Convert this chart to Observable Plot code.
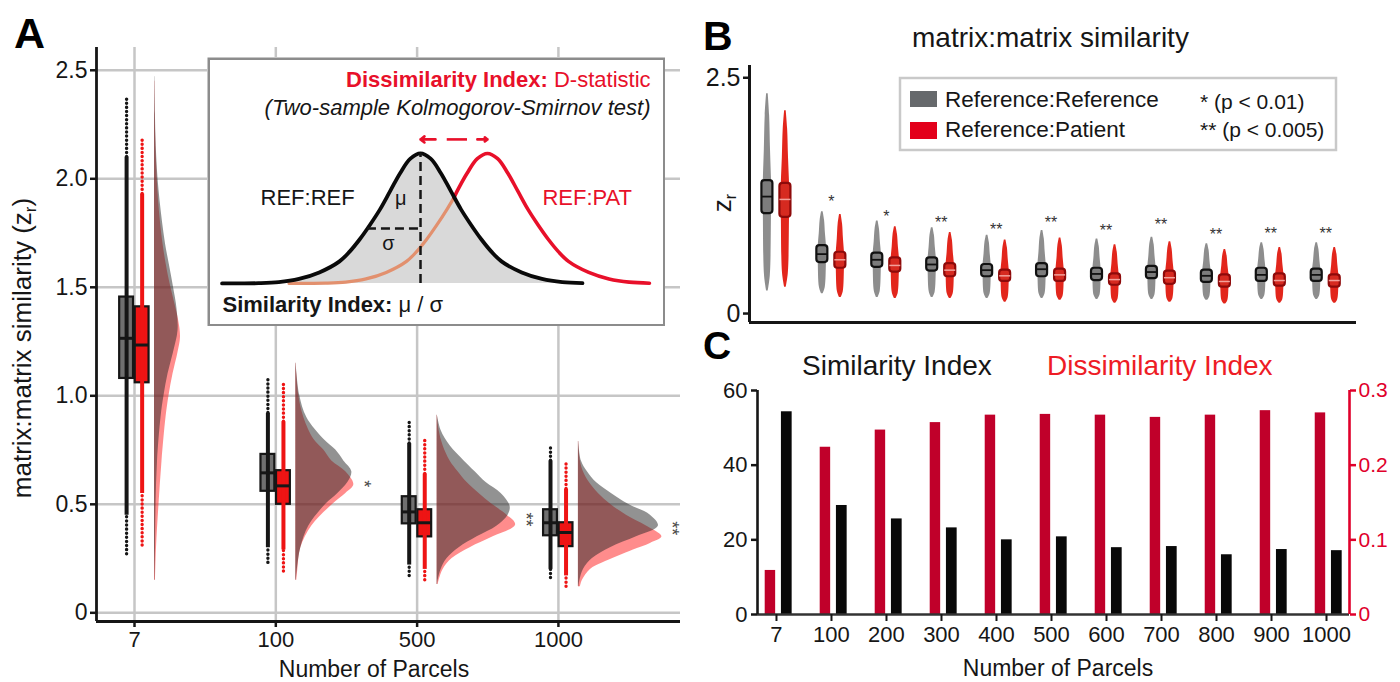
<!DOCTYPE html>
<html><head><meta charset="utf-8">
<script src="https://cdn.jsdelivr.net/npm/d3@7"></script>
<script src="https://cdn.jsdelivr.net/npm/@observablehq/plot@0.6"></script>
<style>
body{margin:0;background:#fff;}
#root{position:relative;width:1400px;height:682px;overflow:hidden;background:#fff;}
</style></head><body><div id="root"></div>
<script>
// ---------------- DATA ----------------
// Panel A
const catsA = ["7", "100", "500", "1000"];
// box stats [q1, median, q3]
const refBoxA = [[1.08, 1.265, 1.455], [0.56, 0.645, 0.73], [0.41, 0.465, 0.535], [0.355, 0.415, 0.475]];
const patBoxA = [[1.06, 1.234, 1.41], [0.50, 0.585, 0.655], [0.35, 0.415, 0.475], [0.305, 0.37, 0.415]];
// raw points extent [min, dense low, dense high, max]
const refPtsA = [[0.27, 0.45, 2.10, 2.38], [0.23, 0.30, 0.92, 1.09], [0.17, 0.22, 0.78, 0.88], [0.16, 0.20, 0.70, 0.76]];
const patPtsA = [[0.31, 0.55, 1.93, 2.19], [0.19, 0.29, 0.88, 1.06], [0.15, 0.20, 0.64, 0.80], [0.12, 0.17, 0.57, 0.70]];
// half-violin density profiles [value, density]
const violinRefA = [
  [[0.15,0.5],[0.3,1],[0.5,1.5],[0.7,3],[0.9,6.5],[1.0,9.5],[1.1,13.5],[1.2,19],[1.3,23.5],[1.4,22.5],[1.5,19],[1.6,15],[1.7,11],[1.8,8],[1.9,5.5],[2.0,3.5],[2.1,2.2],[2.2,1.4],[2.3,0.9],[2.47,0.3]],
  [[0.15,0.5],[0.2,1.5],[0.3,5],[0.4,13],[0.5,30],[0.55,42],[0.6,52],[0.65,56],[0.7,48],[0.75,40],[0.8,28],[0.9,11],[1.0,4],[1.15,0.3]],
  [[0.13,0.5],[0.15,1],[0.2,4],[0.25,10],[0.3,22],[0.35,40],[0.4,60],[0.45,71],[0.49,73],[0.55,64],[0.6,49],[0.65,38],[0.7,27],[0.77,13],[0.84,4],[0.91,0.3]],
  [[0.12,0.5],[0.15,1.5],[0.2,5],[0.25,14],[0.3,32],[0.35,58],[0.4,80],[0.45,72],[0.5,50],[0.55,33],[0.6,18],[0.65,9],[0.7,3],[0.79,0.3]]
];
const violinPatA = [
  [[0.15,1],[0.3,2],[0.5,4.5],[0.7,7.5],[0.9,11.5],[1.0,14.5],[1.1,18.5],[1.2,23.5],[1.27,26],[1.35,24],[1.45,19],[1.55,14],[1.7,8.5],[1.9,4],[2.1,1.8],[2.3,0.7],[2.45,0.3]],
  [[0.15,1],[0.2,2],[0.3,5],[0.4,16],[0.5,37],[0.55,50],[0.59,58],[0.65,50],[0.7,36],[0.75,28],[0.8,18],[0.9,8],[1.0,3],[1.1,1],[1.15,0.3]],
  [[0.13,1],[0.15,2],[0.2,6],[0.25,15],[0.3,33],[0.35,56],[0.405,78.5],[0.45,70],[0.5,55],[0.55,42],[0.6,30],[0.65,21],[0.7,13],[0.77,6],[0.84,2],[0.91,0.3]],
  [[0.12,2],[0.15,4],[0.2,12],[0.23,24],[0.29,55],[0.32,72],[0.35,83.5],[0.4,68],[0.45,48],[0.5,32],[0.55,20],[0.6,11],[0.65,5],[0.7,2],[0.79,0.3]]
];
const sigA = ["", "*", "**", "**"];
const sigAy = [null, 0.595, 0.43, 0.39];

// Inset schematic (x in sigma units, h relative height)
const bellX = [-4.9,-4,-3.5,-3,-2.5,-2,-1.75,-1.5,-1.25,-1,-0.75,-0.5,-0.25,0,0.25,0.5,0.75,1,1.25,1.5,1.75,2,2.5,3,3.5,4];
const bellH = [0,0.002,0.01,0.035,0.085,0.17,0.245,0.34,0.45,0.57,0.71,0.85,0.96,1,0.96,0.85,0.71,0.57,0.45,0.34,0.245,0.17,0.085,0.035,0.01,0.002];
const patShift = 1.654;          // REF:PAT mean offset
const cross = [0.827, 0.66];     // where the two curves cross
const sigmaMark = [-1.31, 0.423];// sigma guide: x start, height
const arrowY = 1.108;

// Panel B
const catsB = ["7","100","200","300","400","500","600","700","800","900","1000"];
// [min, q1, median, q3, max]
const refB = [[0.24,1.06,1.24,1.41,2.33],[0.21,0.54,0.63,0.72,1.08],[0.17,0.49,0.57,0.64,0.98],[0.17,0.45,0.52,0.59,0.91],[0.16,0.39,0.46,0.52,0.83],[0.16,0.39,0.47,0.53,0.88],[0.15,0.35,0.42,0.48,0.79],[0.15,0.37,0.44,0.50,0.81],[0.14,0.33,0.40,0.46,0.74],[0.15,0.34,0.41,0.48,0.75],[0.15,0.34,0.41,0.47,0.75]];
const patB = [[0.28,1.02,1.21,1.38,2.15],[0.17,0.48,0.57,0.65,1.05],[0.16,0.44,0.51,0.59,0.92],[0.16,0.39,0.46,0.53,0.86],[0.12,0.34,0.40,0.46,0.78],[0.14,0.34,0.41,0.47,0.80],[0.11,0.30,0.36,0.42,0.73],[0.12,0.31,0.38,0.45,0.76],[0.10,0.28,0.34,0.41,0.68],[0.11,0.29,0.35,0.42,0.70],[0.11,0.28,0.35,0.41,0.70]];
const sigB = ["", "*", "*", "**", "**", "**", "**", "**", "**", "**", "**"];
const sigBy = [null, 1.23, 1.07, 1.0, 0.93, 1.0, 0.92, 0.98, 0.88, 0.89, 0.89];

// Panel C
const simIndex = [54.3, 29.2, 25.6, 23.2, 20.0, 20.8, 17.9, 18.2, 16.0, 17.4, 17.1];
const dissimIndex = [0.059, 0.224, 0.247, 0.257, 0.267, 0.268, 0.267, 0.264, 0.267, 0.273, 0.270];

// ---------------- DRAW ----------------
const fontFamily = "'Liberation Sans', Arial, Helvetica, sans-serif";
const root = document.getElementById("root");
function place(el, left, top) {
  el.style.position = "absolute"; el.style.left = left + "px"; el.style.top = top + "px";
  root.appendChild(el); return el;
}
const INK = "#161616";

// ---- Panel A ----
const PA = 141.3, baseA = 20 / PA;
const violinRows = (profiles, key) => profiles.flatMap((prof, i) =>
  prof.map(([y, d]) => ({ key: key + i, y, x1: i + baseA, x2: i + baseA + d / PA })));
const refViolA = violinRows(violinRefA, "r"), patViolA = violinRows(violinPatA, "p");
const boxRows = (stats, a, b) => stats.map(([q1, m, q3], i) => ({ q1, m, q3, x1: i + a, x2: i + b }));
const refBoxRows = boxRows(refBoxA, -0.105, -0.007);
const patBoxRows = boxRows(patBoxA, 0.005, 0.103);
const ptRows = (pts, off) => pts.map(([mn, lo, hi, mx], i) => ({ x: i + off, mn, lo, hi, mx }));
const refPtRows = ptRows(refPtsA, -0.056), patPtRows = ptRows(patPtsA, 0.054);
const starRowsA = sigA.map((s, i) => ({
  s, y: sigAy[i],
  x: i + baseA + (Math.max(...violinPatA[i].map(d => d[1]), ...violinRefA[i].map(d => d[1])) + 10) / PA
})).filter(d => d.s);
const xA = [-0.269, 3.864], yA = [-0.04, 2.605];
const dotted = { strokeWidth: 3.4, strokeDasharray: "0.1 4", strokeLinecap: "round" };

const plotA = Plot.plot({
  width: 690, height: 682, marginLeft: 96, marginRight: 10, marginTop: 47, marginBottom: 61,
  x: { domain: xA }, y: { domain: yA },
  style: { fontFamily, fontSize: "22px", color: INK, background: "#fff" },
  marks: [
    Plot.gridY([0, 0.5, 1, 1.5, 2, 2.5], { stroke: "#c6c6c6", strokeOpacity: 1, strokeWidth: 2.5 }),
    Plot.gridX([0, 1, 2, 3], { stroke: "#c6c6c6", strokeOpacity: 1, strokeWidth: 2.5 }),
    Plot.areaX(patViolA, { y: "y", x1: "x1", x2: "x2", z: "key", fill: "#ff2222", fillOpacity: 0.52, curve: "catmull-rom" }),
    Plot.areaX(refViolA, { y: "y", x1: "x1", x2: "x2", z: "key", fill: "#262626", fillOpacity: 0.5, curve: "catmull-rom" }),
    Plot.rect(refBoxRows, { x1: "x1", x2: "x2", y1: "q1", y2: "q3", fill: "#707070", stroke: INK, strokeWidth: 2.2 }),
    Plot.rect(patBoxRows, { x1: "x1", x2: "x2", y1: "q1", y2: "q3", fill: "#ee1414", stroke: INK, strokeWidth: 2.2 }),
    Plot.ruleX(refPtRows, { x: "x", y1: "mn", y2: "lo", stroke: INK, ...dotted }),
    Plot.ruleX(refPtRows, { x: "x", y1: "hi", y2: "mx", stroke: INK, ...dotted }),
    Plot.ruleX(refPtRows, { x: "x", y1: "lo", y2: "hi", stroke: INK, strokeWidth: 4 }),
    Plot.ruleX(patPtRows, { x: "x", y1: "mn", y2: "lo", stroke: "#ee1414", ...dotted }),
    Plot.ruleX(patPtRows, { x: "x", y1: "hi", y2: "mx", stroke: "#ee1414", ...dotted }),
    Plot.ruleX(patPtRows, { x: "x", y1: "lo", y2: "hi", stroke: "#ee1414", strokeWidth: 4 }),
    Plot.ruleY(refBoxRows, { x1: "x1", x2: "x2", y: "m", stroke: INK, strokeWidth: 3 }),
    Plot.ruleY(patBoxRows, { x1: "x1", x2: "x2", y: "m", stroke: INK, strokeWidth: 3 }),
    Plot.text(starRowsA, { x: "x", y: "y", text: "s", rotate: 90, fontSize: 18, fill: "#4a4a4a" }),
    Plot.ruleX([xA[0]], { y1: yA[0], y2: yA[1], stroke: INK, strokeWidth: 2.8 }),
    Plot.ruleY([yA[0]], { x1: xA[0], x2: xA[1], stroke: INK, strokeWidth: 2.8 }),
    Plot.axisY({ ticks: [0, 0.5, 1, 1.5, 2, 2.5], tickFormat: d => d === 0 ? "0" : d.toFixed(1), tickSize: 6, tickPadding: 3, fontSize: 23, strokeWidth: 2.5, label: null }),
    Plot.axisX({ ticks: [0, 1, 2, 3], tickFormat: i => catsA[i], tickSize: 6, tickPadding: 4, fontSize: 22, strokeWidth: 2.5, label: null })
  ]
});
place(plotA, 0, 0);

// ---- Inset ----
const bellRows = bellX.map((x, i) => ({ x, h: bellH[i] }));
const redAll = bellX.map((x, i) => ({ x: x + patShift, h: bellH[i] }));
const salmonRows = redAll.filter(d => d.x < cross[0]).concat([{ x: cross[0], h: cross[1] }]);
const redRows = [{ x: cross[0], h: cross[1] }].concat(redAll.filter(d => d.x > cross[0]));
const RED = "#e8102a";
const inset = Plot.plot({
  width: 458, height: 269, margin: 0,
  x: { domain: [-5.26, 6.05], axis: null }, y: { domain: [-0.331, 1.738], axis: null },
  style: { fontFamily, background: "#fff", color: INK },
  marks: [
    Plot.areaY(bellRows, { x: "x", y: "h", fill: "#d9d9d9", curve: "catmull-rom" }),
    Plot.line(salmonRows, { x: "x", y: "h", stroke: "#e2906e", strokeWidth: 3.2, curve: "catmull-rom" }),
    Plot.line(redRows, { x: "x", y: "h", stroke: RED, strokeWidth: 3.6, curve: "catmull-rom" }),
    Plot.line(bellRows, { x: "x", y: "h", stroke: "#0a0a0a", strokeWidth: 3.8, curve: "catmull-rom" }),
    Plot.ruleX([0], { y1: 0, y2: 1, stroke: INK, strokeWidth: 2.5, strokeDasharray: "9,5" }),
    Plot.ruleY([sigmaMark[1]], { x1: sigmaMark[0], x2: 0, stroke: INK, strokeWidth: 2.5, strokeDasharray: "9,5" }),
    Plot.arrow([{ a: 0.37, b: 0 }, { a: patShift - 0.25, b: patShift }], { x1: "a", x2: "b", y1: arrowY, y2: arrowY, stroke: RED, strokeWidth: 2.6, headLength: 12, headAngle: 75 }),
    Plot.ruleY([arrowY], { x1: 0.66, x2: 1.16, stroke: RED, strokeWidth: 2.6 }),
    Plot.text(["Dissimilarity Index: D-statistic"], { x: 5.68, y: 1.508, text: d => d, textAnchor: "end", lineAnchor: "bottom", fontSize: 22, fill: RED }),
    Plot.text(["(Two-sample Kolmogorov-Smirnov test)"], { x: 5.68, y: 1.292, text: d => d, textAnchor: "end", lineAnchor: "bottom", fontSize: 22, fontStyle: "italic", fill: INK }),
    Plot.text(["REF:REF"], { x: -3.95, y: 0.6, text: d => d, textAnchor: "start", lineAnchor: "bottom", fontSize: 22, fill: INK }),
    Plot.text(["REF:PAT"], { x: 3.01, y: 0.6, text: d => d, textAnchor: "start", lineAnchor: "bottom", fontSize: 22, fill: RED }),
    Plot.text(["μ"], { x: -0.49, y: 0.654, text: d => d, fontSize: 20, fill: INK }),
    Plot.text(["σ"], { x: -0.79, y: 0.308, text: d => d, fontSize: 20, fill: INK }),
    Plot.text(["Similarity Index: μ / σ"], { x: -4.89, y: -0.223, text: d => d, textAnchor: "start", lineAnchor: "bottom", fontSize: 22, fill: INK }),
    Plot.frame({ stroke: "#8c8c8c", strokeWidth: 2.5, inset: 1.25 })
  ]
});
function enrich(svg, whole, parts) {
  svg.querySelectorAll("text").forEach(t => {
    if (t.textContent === whole) {
      t.textContent = "";
      parts.forEach(([s, w]) => {
        const ts = document.createElementNS("http://www.w3.org/2000/svg", "tspan");
        ts.setAttribute("font-weight", w); ts.textContent = s; t.appendChild(ts);
      });
    }
  });
}
enrich(inset, "Dissimilarity Index: D-statistic", [["Dissimilarity Index: ", "bold"], ["D-statistic", "normal"]]);
enrich(inset, "Similarity Index: μ / σ", [["Similarity Index: ", "bold"], ["μ / σ", "normal"]]);
place(inset, 207, 57);

// ---- Panel B ----
const PB = 54.9, offB = 9 / PB, boxHalf = 5.5 / PB;
function violinB(stats, off, key) {
  return stats.flatMap(([mn, q1, md, q3, mx], i) => {
    const c = i + off;
    const prof = [[mn, 0.8], [mn + 0.2 * (q1 - mn), 2.9], [q1, 4.1], [md, 4.5], [q3, 4.1],
                  [q3 + 0.35 * (mx - q3), 3.1], [q3 + 0.75 * (mx - q3), 2.2], [mx, 0.8]];
    return prof.map(([y, w]) => ({ k: key + i, y, x1: c - w / PB, x2: c + w / PB }));
  });
}
const boxB = (stats, off) => stats.map(([mn, q1, md, q3, mx], i) => ({ q1, md, q3, x1: i + off - boxHalf, x2: i + off + boxHalf }));
const xB = [-0.49, 10.56], yB = [-0.095, 2.63];
const plotB = Plot.plot({
  width: 710, height: 330, marginLeft: 59, marginRight: 44, marginTop: 65, marginBottom: 8,
  x: { domain: xB, axis: null }, y: { domain: yB },
  style: { fontFamily, fontSize: "24px", color: INK, background: "#fff" },
  marks: [
    Plot.areaX(violinB(refB, -offB, "r"), { y: "y", x1: "x1", x2: "x2", z: "k", fill: "#8d8d8d", curve: "catmull-rom" }),
    Plot.areaX(violinB(patB, offB, "p"), { y: "y", x1: "x1", x2: "x2", z: "k", fill: "#e2261c", curve: "catmull-rom" }),
    Plot.rect(boxB(refB, -offB), { x1: "x1", x2: "x2", y1: "q1", y2: "q3", fill: "#7c7c7c", stroke: "#111", strokeWidth: 2.2, rx: 3 }),
    Plot.ruleY(boxB(refB, -offB), { x1: "x1", x2: "x2", y: "md", stroke: "#111", strokeWidth: 1.8 }),
    Plot.rect(boxB(patB, offB), { x1: "x1", x2: "x2", y1: "q1", y2: "q3", fill: "#d62a20", stroke: "#8e0a0a", strokeWidth: 2.2, rx: 3 }),
    Plot.ruleY(boxB(patB, offB), { x1: "x1", x2: "x2", y: "md", stroke: "#f2a09a", strokeWidth: 1.5 }),
    Plot.text(sigB.map((s, i) => ({ s, i, y: sigBy[i] })).filter(d => d.s), { x: "i", y: "y", text: "s", fontSize: 16, dy: 4, fill: "#333" }),
    Plot.ruleX([xB[0]], { y1: yB[0], y2: yB[1], stroke: INK, strokeWidth: 3 }),
    Plot.ruleY([yB[0]], { x1: xB[0], x2: xB[1], stroke: INK, strokeWidth: 3.2 }),
    Plot.axisY({ ticks: [0, 2.5], tickFormat: d => d === 0 ? "0" : "2.5", tickSize: 6, tickPadding: 3, fontSize: 25, strokeWidth: 2.5, label: null })
  ]
});
place(plotB, 690, 0);

// ---- Panel C ----
const xC = [-0.345, 10.418];
const CRED = "#c0002a", AXRED = "#e0002b";
const plotC = Plot.plot({
  width: 710, height: 352, marginLeft: 67, marginRight: 51, marginTop: 60, marginBottom: 68,
  x: { domain: xC }, y: { domain: [0, 60] },
  style: { fontFamily, fontSize: "22px", color: INK, background: "#fff" },
  marks: [
    Plot.rectY(dissimIndex, { x1: (d, i) => i - 0.205, x2: (d, i) => i - 0.015, y1: 0, y2: d => d * 200, fill: CRED }),
    Plot.rectY(simIndex, { x1: (d, i) => i + 0.09, x2: (d, i) => i + 0.285, y1: 0, y2: d => d, fill: "#080808" }),
    Plot.ruleY([0], { x1: xC[0], x2: xC[1], stroke: "#333", strokeWidth: 2.5 }),
    Plot.ruleX([xC[0]], { y1: 0, y2: 60, stroke: INK, strokeWidth: 2.6 }),
    Plot.ruleX([xC[1]], { y1: 0, y2: 60, stroke: AXRED, strokeWidth: 2.6 }),
    Plot.axisY({ anchor: "left", ticks: [0, 20, 40, 60], tickSize: 6, tickPadding: 4, fontSize: 22, strokeWidth: 2.5, label: null }),
    Plot.axisY({ anchor: "right", ticks: [0, 20, 40, 60], tickFormat: d => d === 0 ? "0" : String(d / 200), tickSize: 6, tickPadding: 3, fontSize: 21, stroke: AXRED, fill: AXRED, strokeWidth: 2.5, label: null }),
    Plot.axisX({ ticks: d3.range(catsB.length), tickFormat: i => catsB[i], tickSize: 7, tickPadding: 5, fontSize: 22, strokeWidth: 2, label: null })
  ]
});
place(plotC, 690, 330);

// ---- Overlay: panel letters, titles, axis titles, legend ----
const ov = d3.create("svg").attr("width", 1400).attr("height", 682).attr("font-family", fontFamily)
  .style("position", "absolute").style("left", "0px").style("top", "0px");
function txt(x, y, s, o = {}) {
  const t = ov.append("text").attr("x", x).attr("y", y).text(s)
    .attr("font-size", o.size || 22).attr("fill", o.fill || INK);
  if (o.weight) t.attr("font-weight", o.weight);
  if (o.anchor) t.attr("text-anchor", o.anchor);
  return t;
}
txt(14, 48, "A", { size: 43, weight: "bold", fill: "#000" });
txt(703, 50, "B", { size: 41, weight: "bold", fill: "#000" });
txt(703, 359, "C", { size: 39, weight: "bold", fill: "#000" });
txt(912, 47, "matrix:matrix similarity", { size: 28 });
txt(802, 375, "Similarity Index", { size: 28 });
txt(1047, 375, "Dissimilarity Index", { size: 28, fill: "#ee1c25" });
txt(374, 677, "Number of Parcels", { size: 23, anchor: "middle" });
txt(1058, 676, "Number of Parcels", { size: 23, anchor: "middle" });
const yl = ov.append("text").attr("transform", "translate(31,348) rotate(-90)").attr("text-anchor", "middle")
  .attr("font-size", 26).attr("fill", INK);
yl.append("tspan").text("matrix:matrix similarity (z");
yl.append("tspan").attr("font-size", 17).attr("dy", 5).text("r");
yl.append("tspan").attr("dy", -5).text(")");
const zl = ov.append("text").attr("transform", "translate(731,203) rotate(-90)").attr("text-anchor", "middle")
  .attr("font-size", 26).attr("fill", INK);
zl.append("tspan").text("z");
zl.append("tspan").attr("font-size", 16).attr("dy", 5).text("r");
// legend of panel B
ov.append("rect").attr("x", 900).attr("y", 78).attr("width", 436).attr("height", 72)
  .attr("fill", "#fff").attr("stroke", "#c9c9c9").attr("stroke-width", 2.5);
ov.append("rect").attr("x", 910).attr("y", 91).attr("width", 27).attr("height", 16).attr("fill", "#66696c");
ov.append("rect").attr("x", 910).attr("y", 122).attr("width", 27).attr("height", 17).attr("fill", "#e3001b");
txt(945, 107, "Reference:Reference", { size: 22.5 });
txt(945, 137, "Reference:Patient", { size: 22.5 });
txt(1200, 109, "* (p < 0.01)", { size: 21 });
txt(1200, 137, "** (p < 0.005)", { size: 21 });
root.appendChild(ov.node());
</script></body></html>
